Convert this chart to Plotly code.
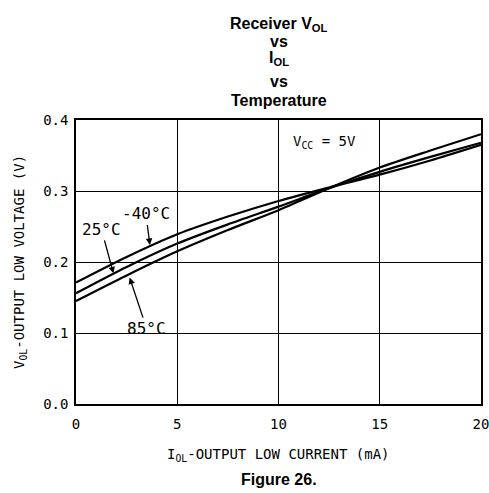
import plotly.graph_objects as go

# Data (I_OL in mA, V_OL in V)
iol = [0, 2.5, 5, 7.5, 10, 12.5, 15, 17.5, 20]
vol_m40 = [0.171, 0.207, 0.239, 0.264, 0.286, 0.305, 0.323, 0.343, 0.365]
vol_25 = [0.156, 0.193, 0.226, 0.253, 0.278, 0.304, 0.327, 0.348, 0.368]
vol_85 = [0.145, 0.181, 0.215, 0.245, 0.273, 0.304, 0.333, 0.357, 0.380]

x_ticks = [0, 5, 10, 15, 20]
y_ticks = [0.0, 0.1, 0.2, 0.3, 0.4]
y_tick_labels = ["0.0", "0.1", "0.2", "0.3", "0.4"]

MONO = "DejaVu Sans Mono"
BOLD = "Liberation Sans, Arial, sans-serif"

fig = go.Figure()
for name, v in [("-40°C", vol_m40), ("25°C", vol_25), ("85°C", vol_85)]:
    fig.add_trace(go.Scatter(x=iol, y=v, mode="lines", name=name,
                             line=dict(color="black", width=2.2, shape="spline", smoothing=0.8),
                             showlegend=False, hoverinfo="skip"))

fig.update_layout(
    width=489, height=493,
    margin=dict(l=76, r=8, t=120, b=89, autoexpand=False),
    paper_bgcolor="white", plot_bgcolor="white",
    showlegend=False,
)
fig.update_xaxes(range=[0, 20], tickvals=x_ticks, showgrid=True, gridcolor="black", gridwidth=1,
                 zeroline=False, showline=True, linecolor="black", linewidth=1.5, mirror=True,
                 ticks="", ticklen=0, automargin=False, ticklabeloverflow="allow",
                 ticklabelstandoff=6,
                 tickfont=dict(family=MONO, size=14, color="black"))
fig.update_yaxes(range=[0, 0.4], tickvals=y_ticks, ticktext=y_tick_labels, showgrid=True,
                 gridcolor="black", gridwidth=1,
                 zeroline=False, showline=True, linecolor="black", linewidth=1.5, mirror=True,
                 ticks="", ticklen=0, automargin=False, ticklabelstandoff=3,
                 tickfont=dict(family=MONO, size=14, color="black"))

ann = []
# plot spans y px 120..404 and x px 76..481
def py(p):
    return (404 - p) / 284.0

def px(p):
    return (p - 76) / 405.0

title_lines = [("Receiver V<sub>OL</sub>", 25), ("vs", 41), ("I<sub>OL</sub>", 59), ("vs", 81), ("Temperature", 100)]
for txt, p in title_lines:
    ann.append(dict(text="<b>" + txt + "</b>", xref="paper", yref="paper", x=0.5, y=py(p), showarrow=False,
                    xanchor="center", yanchor="middle",
                    font=dict(family=BOLD, size=16, color="black")))
ann.append(dict(text="<b>Figure 26.</b>", xref="paper", yref="paper", x=0.5, y=py(479), showarrow=False,
                xanchor="center", yanchor="middle", font=dict(family=BOLD, size=16, color="black")))

# Axis titles
ann.append(dict(text="I<sub>OL</sub>-OUTPUT LOW CURRENT (mA)", xref="paper", yref="paper",
                x=0.5, y=py(455), showarrow=False, xanchor="center", yanchor="middle",
                font=dict(family=MONO, size=14, color="black")))
ann.append(dict(text="V<sub>OL</sub>-OUTPUT LOW VOLTAGE (V)", xref="paper", yref="paper",
                x=px(20), y=0.5, showarrow=False, xanchor="center", yanchor="middle", textangle=-90,
                font=dict(family=MONO, size=14, color="black")))

# Curve labels with arrows
ann.append(dict(text="-40°C", x=3.65, y=0.224, ax=-4, ay=-31, showarrow=True, arrowhead=2,
                arrowsize=1, arrowwidth=1.3, arrowcolor="black", standoff=0,
                font=dict(family=MONO, size=16, color="black")))
ann.append(dict(text="25°C", x=1.85, y=0.184, ax=-12, ay=-44, showarrow=True, arrowhead=2,
                arrowsize=1, arrowwidth=1.3, arrowcolor="black", standoff=0,
                font=dict(family=MONO, size=16, color="black")))
ann.append(dict(text="85°C", x=2.65, y=0.178, ax=17, ay=51, showarrow=True, arrowhead=2,
                arrowsize=1, arrowwidth=1.3, arrowcolor="black", standoff=0,
                font=dict(family=MONO, size=16, color="black")))
ann.append(dict(text="V<sub>CC</sub> = 5V", x=12.25, y=0.369, showarrow=False,
                font=dict(family=MONO, size=14, color="black")))

fig.update_layout(annotations=ann)
fig.write_html("out.html", config={"displayModeBar": False},
               post_script="document.body.style.margin='0';document.body.style.overflow='hidden';")
